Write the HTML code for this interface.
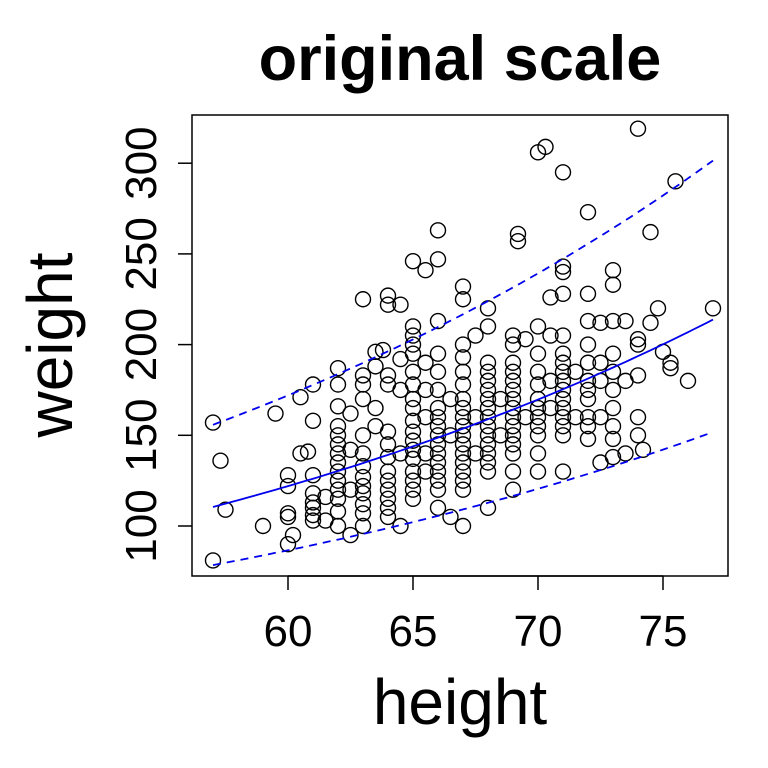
<!DOCTYPE html>
<html><head><meta charset="utf-8"><style>
body{margin:0;background:#fff}
svg{display:block;font-family:"Liberation Sans",sans-serif}
</style></head><body>
<svg id="c" width="768" height="768">
<text x="460" y="80" text-anchor="middle" font-size="63" font-weight="bold">original scale</text>
<rect x="192" y="115" width="536" height="461" fill="none" stroke="#000" stroke-width="1.5"/>
<g id="xaxis"></g>
<g id="yaxis"></g>
<text x="460" y="724" text-anchor="middle" font-size="64">height</text>
<text transform="translate(72,345) rotate(-90)" text-anchor="middle" font-size="64">weight</text>
<g id="pts"></g>
<g id="lines"></g>
</svg>
<script>
const xTicks=[60,65,70,75];
const yTicks=[100,150,200,250,300];
const heights=[57,57,57.3,57.5,59,59.5,60,60,60,60,60,60.2,60.5,60.5,60.8,61,61,61,61,61,61,61,61,61.5,61.5,62,62,62,62,62,62,62,62,62,62,62,62,62,62,62.5,62.5,62.5,62.5,63,63,63,63,63,63,63,63,63,63,63,63,63,63.5,63.5,63.5,63.5,63.8,64,64,64,64,64,64,64,64,64,64,64,64,64,64.5,64.5,64.5,64.5,64.5,65,65,65,65,65,65,65,65,65,65,65,65,65,65,65,65,65,65,65.5,65.5,65.5,65.5,65.5,65.5,66,66,66,66,66,66,66,66,66,66,66,66,66,66,66,66,66,66.5,66.5,66.5,67,67,67,67,67,67,67,67,67,67,67,67,67,67,67,67,67,67,67.5,67.5,67.5,68,68,68,68,68,68,68,68,68,68,68,68,68,68,68,68,68.5,68.5,69,69,69,69,69,69,69,69,69,69,69,69,69,69,69,69.2,69.2,69.5,69.5,70,70,70,70,70,70,70,70,70,70,70,70,70.3,70.5,70.5,70.5,70.5,71,71,71,71,71,71,71,71,71,71,71,71,71,71,71,71,71.5,71.5,72,72,72,72,72,72,72,72,72,72,72,72.5,72.5,72.5,72.5,72.5,73,73,73,73,73,73,73,73,73,73,73.5,73.5,73.5,74,74,74,74,74,74,74.2,74.5,74.5,74.8,75,75.3,75.3,75.5,76,77];
const weights=[157,81,136,109,100,162,128,122,107,105,90,95,171,140,141,178,158,128,118,113,110,106,103,103,116,187,178,166,155,150,145,140,135,130,125,120,115,108,100,162,142,120,95,225,183,178,170,150,140,133,127,122,118,112,107,100,196,188,165,155,197,227,222,183,178,152,145,138,130,125,120,115,110,105,222,192,175,140,100,246,210,205,200,195,185,178,170,165,158,152,147,142,137,130,125,120,115,241,190,175,160,140,130,263,247,213,195,185,175,165,160,155,150,145,140,135,130,125,120,110,170,150,105,232,225,200,193,185,178,170,165,160,155,150,145,140,135,130,125,120,100,205,160,140,220,210,190,185,180,175,170,165,160,155,150,145,140,135,130,110,170,150,205,200,190,185,180,175,170,165,160,155,150,145,140,130,120,261,257,203,160,306,210,195,185,178,170,165,160,155,150,140,130,309,226,205,180,165,295,243,240,228,205,195,190,185,180,175,170,165,160,155,150,130,185,160,273,228,213,200,190,180,175,170,160,155,148,212,190,180,160,135,241,233,213,195,185,175,165,155,148,138,213,180,140,319,203,200,183,160,150,142,262,212,220,196,190,187,290,180,220];
const fitStart=110.5, fitEnd=213.8, upperFactor=1.41, lowerFactor=0.71;
const NS="http://www.w3.org/2000/svg";
const sx=h=>288+(h-60)*25;
const sy=w=>526-(w-100)*1.814;
function mk(t,a,p){const e=document.createElementNS(NS,t);for(const k in a)e.setAttribute(k,a[k]);p.appendChild(e);return e;}
const xa=document.getElementById('xaxis');
mk('line',{x1:sx(60),x2:sx(75),y1:576,y2:576,stroke:'#000','stroke-width':1.5},xa);
xTicks.forEach(t=>{
 const l=mk('line',{x1:sx(t),x2:sx(t),y1:576,y2:590,stroke:'#000','stroke-width':1.5},xa);
 
 
 const tx=mk('text',{x:sx(t),y:646,'text-anchor':'middle','font-size':44},xa);tx.textContent=t;
 
 
});
const ya=document.getElementById('yaxis');
yTicks.forEach(t=>{
 const l=mk('line',{x1:178,x2:192,y1:sy(t),y2:sy(t),stroke:'#000','stroke-width':1.5},ya);
 
 
 const tx=mk('text',{transform:`translate(156,${sy(t)}) rotate(-90)`,'text-anchor':'middle','font-size':44},ya);tx.textContent=t;
 
 
});
const pg=document.getElementById('pts');
heights.forEach((h,i)=>{
 const c=mk('circle',{cx:sx(h),cy:sy(weights[i]),r:7.5,fill:'none',stroke:'#000','stroke-width':1.4},pg);
 
 
});
const lg=document.getElementById('lines');
const b=Math.log(fitEnd/fitStart)/20;
function path(f,dash,name){let d='';for(let h=57;h<=77.001;h+=0.25){const w=fitStart*Math.exp(b*(h-57))*f;d+=(d?'L':'M')+sx(h).toFixed(1)+','+sy(w).toFixed(1);}
 const p=mk('path',{d:d,fill:'none',stroke:'#0000ee','stroke-width':1.8},lg);if(dash)p.setAttribute('stroke-dasharray','8,6');
 
 }
path(1,false,'fit-line');path(upperFactor,true,'upper-band');path(lowerFactor,true,'lower-band');
</script>
</body></html>
